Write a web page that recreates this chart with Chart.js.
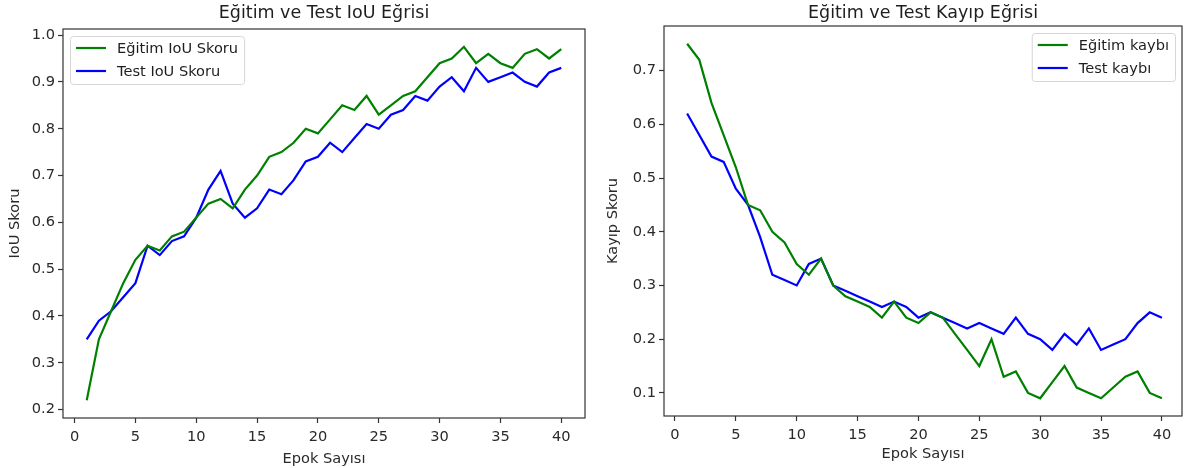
<!DOCTYPE html>
<html><head><meta charset="utf-8">
<script src="https://cdn.jsdelivr.net/npm/chart.js@4.4.1/dist/chart.umd.min.js"></script>
<style>
html,body{margin:0;padding:0;background:#fff;width:1184px;height:468px;overflow:hidden}
canvas{position:absolute;top:0}
#c1{left:0}
#c2{left:600px}
</style></head><body>
<canvas id="c1" width="600" height="468"></canvas>
<canvas id="c2" width="584" height="468"></canvas>
<script>
const epochs = [1,2,3,4,5,6,7,8,9,10,11,12,13,14,15,16,17,18,19,20,21,22,23,24,25,26,27,28,29,30,31,32,33,34,35,36,37,38,39,40];
const trainIoU = [0.22,0.35,0.41,0.47,0.52,0.55,0.54,0.57,0.58,0.61,0.64,0.65,0.63,0.67,0.70,0.74,0.75,0.77,0.80,0.79,0.82,0.85,0.84,0.87,0.83,0.85,0.87,0.88,0.91,0.94,0.95,0.975,0.94,0.96,0.94,0.93,0.96,0.97,0.95,0.97];
const testIoU = [0.35,0.39,0.41,0.44,0.47,0.55,0.53,0.56,0.57,0.61,0.67,0.71,0.64,0.61,0.63,0.67,0.66,0.69,0.73,0.74,0.77,0.75,0.78,0.81,0.80,0.83,0.84,0.87,0.86,0.89,0.91,0.88,0.93,0.90,0.91,0.92,0.90,0.89,0.92,0.93];
const trainLoss = [0.75,0.72,0.64,0.58,0.52,0.45,0.44,0.40,0.38,0.34,0.32,0.35,0.30,0.28,0.27,0.26,0.24,0.27,0.24,0.23,0.25,0.24,0.21,0.18,0.15,0.20,0.13,0.14,0.10,0.09,0.12,0.15,0.11,0.10,0.09,0.11,0.13,0.14,0.10,0.09];
const testLoss = [0.62,0.58,0.54,0.53,0.48,0.45,0.39,0.32,0.31,0.30,0.34,0.35,0.30,0.29,0.28,0.27,0.26,0.27,0.26,0.24,0.25,0.24,0.23,0.22,0.23,0.22,0.21,0.24,0.21,0.20,0.18,0.21,0.19,0.22,0.18,0.19,0.20,0.23,0.25,0.24];
const xTicks = [0,5,10,15,20,25,30,35,40];
const iouTicks = [0.2,0.3,0.4,0.5,0.6,0.7,0.8,0.9,1.0];
const lossTicks = [0.1,0.2,0.3,0.4,0.5,0.6,0.7];
const iouLabels = ['Eğitim IoU Skoru','Test IoU Skoru'];
const lossLabels = ['Eğitim kaybı','Test kaybı'];

Chart.defaults.font.family = '"DejaVu Sans", sans-serif';
Chart.defaults.color = '#222';

const FS = 14.6;

const framePlugin = {
  id: 'frame',
  afterDraw(chart) {
    const {ctx, chartArea: a} = chart;
    ctx.save();
    ctx.strokeStyle = '#333';
    ctx.lineWidth = 1.2;
    ctx.strokeRect(a.left, a.top, a.right - a.left, a.bottom - a.top);
    ctx.restore();
  }
};
const titlePlugin = {
  id: 'topTitle',
  afterDraw(chart, args, opts) {
    const {ctx, chartArea: a} = chart;
    ctx.save();
    ctx.font = '17.5px "DejaVu Sans", sans-serif';
    ctx.fillStyle = '#1e1e1e';
    ctx.textAlign = 'center';
    ctx.textBaseline = 'middle';
    ctx.fillText(opts.text, (a.left + a.right) / 2, opts.y);
    ctx.restore();
  }
};
const boxLegendPlugin = {
  id: 'boxLegend',
  afterDraw(chart, args, opts) {
    const {ctx, chartArea: a} = chart;
    ctx.save();
    ctx.font = FS + 'px "DejaVu Sans", sans-serif';
    const items = chart.data.datasets.map(d => ({label: d.label, color: d.borderColor}));
    const tw = Math.max(...items.map(i => ctx.measureText(i.label).width));
    const pad = 6, handle = 30, gap = 11, rowH = 23;
    const w = pad + handle + gap + tw + pad;
    const h = 48;
    const x = opts.align === 'right' ? a.right - 7 - w : a.left + 7;
    const y = a.top + 7;
    ctx.beginPath();
    ctx.roundRect(x + 0.5, y + 0.5, w, h, 3);
    ctx.fillStyle = 'rgba(255,255,255,0.8)';
    ctx.fill();
    ctx.strokeStyle = '#d6d6d6';
    ctx.lineWidth = 1;
    ctx.stroke();
    items.forEach((it, i) => {
      const cy = y + 12 + i * rowH;
      ctx.beginPath();
      ctx.moveTo(x + pad, cy);
      ctx.lineTo(x + pad + handle, cy);
      ctx.strokeStyle = it.color;
      ctx.lineWidth = 2.2;
      ctx.stroke();
      ctx.fillStyle = '#1e1e1e';
      ctx.textAlign = 'left';
      ctx.textBaseline = 'middle';
      ctx.fillText(it.label, x + pad + handle + gap, cy + 1);
    });
    ctx.restore();
  }
};

function pts(vals) { return epochs.map((e, i) => ({x: e, y: vals[i]})); }

function makeChart(id, o) {
  return new Chart(document.getElementById(id), {
    type: 'line',
    data: {
      datasets: [
        {label: o.labels[0], data: pts(o.a), borderColor: '#008000', backgroundColor: '#008000', borderWidth: 2.2, pointRadius: 0, tension: 0, fill: false},
        {label: o.labels[1], data: pts(o.b), borderColor: '#0000ff', backgroundColor: '#0000ff', borderWidth: 2.2, pointRadius: 0, tension: 0, fill: false}
      ]
    },
    plugins: [framePlugin, titlePlugin, boxLegendPlugin],
    options: {
      responsive: false,
      animation: false,
      layout: {padding: {top: o.top, right: o.right, left: 0, bottom: 0}},
      plugins: {
        legend: {display: false},
        tooltip: {enabled: false},
        topTitle: {text: o.title, y: 13},
        boxLegend: {align: o.legendAlign}
      },
      scales: {
        x: {
          type: 'linear', min: o.xmin, max: o.xmax,
          afterBuildTicks: s => { s.ticks = xTicks.map(v => ({value: v})); },
          afterFit: s => { s.height = o.xh; },
          ticks: {font: {size: FS}, padding: 5, maxRotation: 0, autoSkip: false, callback: v => String(v), color: '#2a2a2a'},
          grid: {display: true, drawOnChartArea: false, drawTicks: true, tickLength: 5, tickColor: '#333', tickWidth: 1.2},
          border: {display: false},
          title: {display: true, text: 'Epok Sayısı', font: {size: FS}, color: '#2a2a2a', padding: {top: 0, bottom: o.xtb}}
        },
        y: {
          type: 'linear', min: o.ymin, max: o.ymax,
          afterBuildTicks: s => { s.ticks = o.yTicks.map(v => ({value: v})); },
          afterFit: s => { s.width = o.yw; },
          ticks: {font: {size: FS}, padding: 3, autoSkip: false, callback: v => v.toFixed(1), color: '#2a2a2a'},
          grid: {display: true, drawOnChartArea: false, drawTicks: true, tickLength: 5, tickColor: '#333', tickWidth: 1.2},
          border: {display: false},
          title: {display: true, text: o.ytitle, font: {size: FS}, color: '#2a2a2a', padding: {top: o.ytp, bottom: 0}}
        }
      }
    }
  });
}

makeChart('c1', {
  labels: iouLabels, a: trainIoU, b: testIoU, title: 'Eğitim ve Test IoU Eğrisi',
  top: 29, right: 15, xh: 50, yw: 63, xtb: 0, ytp: 6.5,
  xmin: -0.95, xmax: 41.95, ymin: 0.182, ymax: 1.013, yTicks: iouTicks,
  ytitle: 'IoU Skoru', legendAlign: 'left'
});
makeChart('c2', {
  labels: lossLabels, a: trainLoss, b: testLoss, title: 'Eğitim ve Test Kayıp Eğrisi',
  top: 26, right: 2, xh: 52, yw: 64, xtb: 5, ytp: 4.5,
  xmin: -0.9, xmax: 41.65, ymin: 0.057, ymax: 0.783, yTicks: lossTicks,
  ytitle: 'Kayıp Skoru', legendAlign: 'right'
});
</script>
</body></html>
